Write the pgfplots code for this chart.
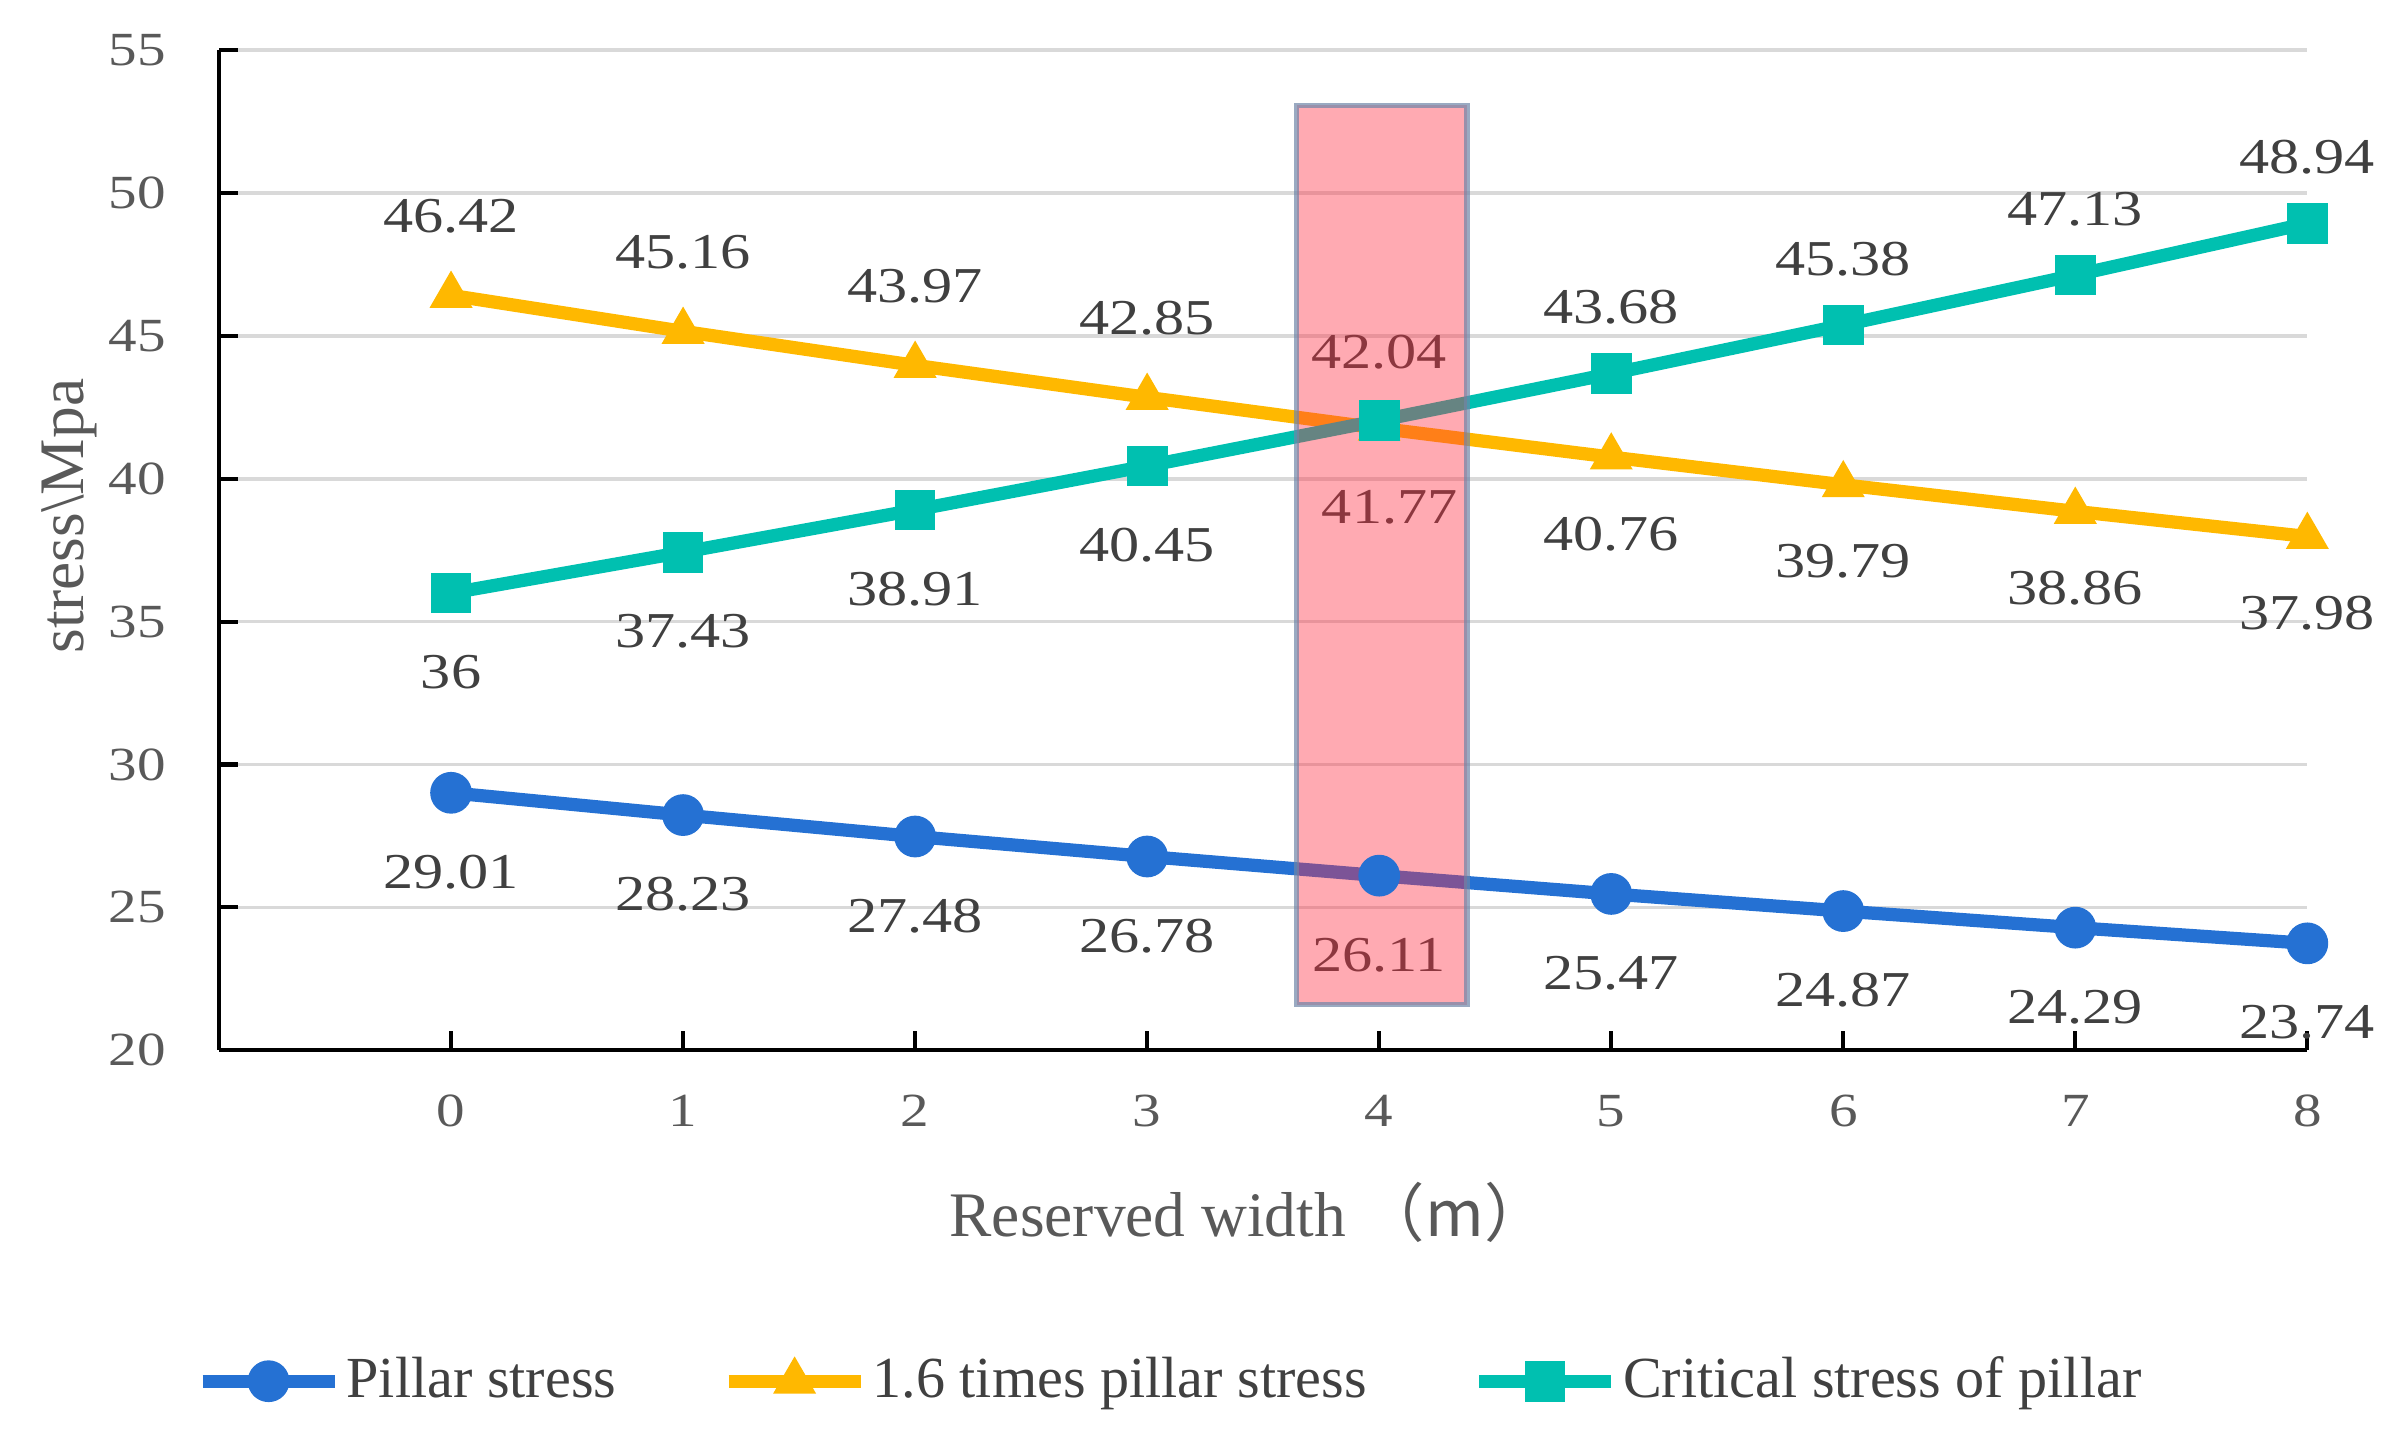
\documentclass[border=0pt]{standalone}
\usepackage{fontspec}
\setmainfont{Liberation Serif}
\newfontfamily\numfont[FakeStretch=1.2]{Liberation Serif}
\newfontfamily\cjk{Noto Sans CJK SC}
\usepackage{pgfplots}
\pgfplotsset{compat=1.18}
\definecolor{cblue}{HTML}{2571D3}
\definecolor{cgold}{HTML}{FFB800}
\definecolor{cteal}{HTML}{00C0B0}
\definecolor{gridgray}{HTML}{D9D9D9}
\definecolor{tickgray}{HTML}{595959}
\definecolor{labgray}{HTML}{404040}
\definecolor{labtint}{HTML}{8C373F}
\definecolor{hlred}{HTML}{FF2A3E}
\definecolor{hlborder}{HTML}{6F86A8}
\begin{document}
\begin{tikzpicture}
\path[use as bounding box] (-41.44pt,-73.8pt) rectangle (412.06pt,198.7pt);
\begin{axis}[
  scale only axis, width=395.1pt, height=189.2pt,
  xmin=-1, xmax=8, ymin=20, ymax=55,
  xtick={0,1,...,8}, ytick={20,25,...,55},
  axis x line*=bottom, axis y line*=left,
  axis line style={black, line width=0.8pt, -},
  tick align=inside, major tick length=3.6pt,
  tick style={black, line width=0.8pt},
  ymajorgrids, grid style={color=gridgray, line width=0.7pt},
  clip=false,
  /pgf/number format/assume math mode=true,
  ticklabel style={font=\numfont\fontsize{9}{10}\selectfont, text=tickgray},
  xticklabel style={yshift=-5pt},
  yticklabel style={xshift=-6.5pt},
  xlabel={Reserved width \cjk{（}m\cjk{）}},
  xlabel style={at={(axis description cs:0.493,-0.162)}, anchor=center,
    font=\fontsize{12}{14}\selectfont, text=tickgray},
  ylabel={stress\textbackslash Mpa},
  ylabel style={at={(axis description cs:-0.0718,0.534)}, anchor=center, rotate=0,
    font=\fontsize{12}{14}\selectfont, text=tickgray},
  every node near coord/.style={font=\numfont\fontsize{9.5}{10}\selectfont, text=labgray, anchor=center},
  legend style={draw=none, fill=none, at={(0.456,-0.331)}, anchor=center,
    legend columns=3, font=\fontsize{11}{13}\selectfont, text=labgray,
    /tikz/every even column/.append style={column sep=19pt},
    nodes={inner sep=1pt}},
  legend image code/.code={\draw[#1, mark repeat=2, mark phase=2] plot coordinates {(0pt,0pt) (12.5pt,0pt) (25pt,0pt)};},
]
% main series
\addplot[cblue, line width=2.5pt, mark=*, mark size=3.7pt, mark options={solid, line width=0.5pt, fill=cblue}]
  coordinates {(0,29.01) (1,28.23) (2,27.48) (3,26.78) (4,26.11) (5,25.47) (6,24.87) (7,24.29) (8,23.74)};
\addlegendentry{Pillar stress}
\addplot[cgold, line width=2.5pt, mark=triangle*, mark size=4.2pt, mark options={solid, line width=0.5pt, fill=cgold}]
  coordinates {(0,46.42) (1,45.16) (2,43.97) (3,42.85) (4,41.77) (5,40.76) (6,39.79) (7,38.86) (8,37.98)};
\addlegendentry{1.6 times pillar stress}
\addplot[cteal, line width=2.5pt, mark=square*, mark size=3.6pt, mark options={solid, line width=0.5pt, fill=cteal}]
  coordinates {(0,36) (1,37.43) (2,38.91) (3,40.45) (4,42.04) (5,43.68) (6,45.38) (7,47.13) (8,48.94)};
\addlegendentry{Critical stress of pillar}
% data labels
\addplot[draw=none, mark=none, forget plot, nodes near coords,
  every node near coord/.append style={yshift=-15pt}]
  coordinates {(0,29.01) (1,28.23) (2,27.48) (3,26.78) (5,25.47) (6,24.87) (7,24.29) (8,23.74)};
\addplot[draw=none, mark=none, forget plot, nodes near coords,
  every node near coord/.append style={yshift=15pt}]
  coordinates {(0,46.42) (1,45.16) (2,43.97) (3,42.85)};
\addplot[draw=none, mark=none, forget plot, nodes near coords,
  every node near coord/.append style={yshift=-14.5pt}]
  coordinates {(5,40.76) (6,39.79) (7,38.86) (8,37.98)};
\addplot[draw=none, mark=none, forget plot, nodes near coords,
  every node near coord/.append style={yshift=-15pt}]
  coordinates {(0,36) (1,37.43) (2,38.91) (3,40.45)};
\addplot[draw=none, mark=none, forget plot, nodes near coords,
  every node near coord/.append style={yshift=12.5pt}]
  coordinates {(5,43.68) (6,45.38) (7,47.13) (8,48.94)};
% labels inside the highlighted band (tinted)
\addplot[draw=none, mark=none, forget plot, nodes near coords,
  every node near coord/.append style={yshift=-15pt, text=labtint}]
  coordinates {(4,26.11)};
\addplot[draw=none, mark=none, forget plot, nodes near coords,
  every node near coord/.append style={yshift=-15pt, xshift=2pt, text=labtint}]
  coordinates {(4,41.77)};
\addplot[draw=none, mark=none, forget plot, nodes near coords,
  every node near coord/.append style={yshift=13pt, text=labtint}]
  coordinates {(4,42.04)};
% highlight rectangle
\addplot[forget plot, fill=hlred, fill opacity=0.4, draw=hlborder, draw opacity=0.7, line width=1pt]
  coordinates {(3.645,21.6) (4.378,21.6) (4.378,53.07) (3.645,53.07)} -- cycle;
\end{axis}
\end{tikzpicture}
\end{document}
